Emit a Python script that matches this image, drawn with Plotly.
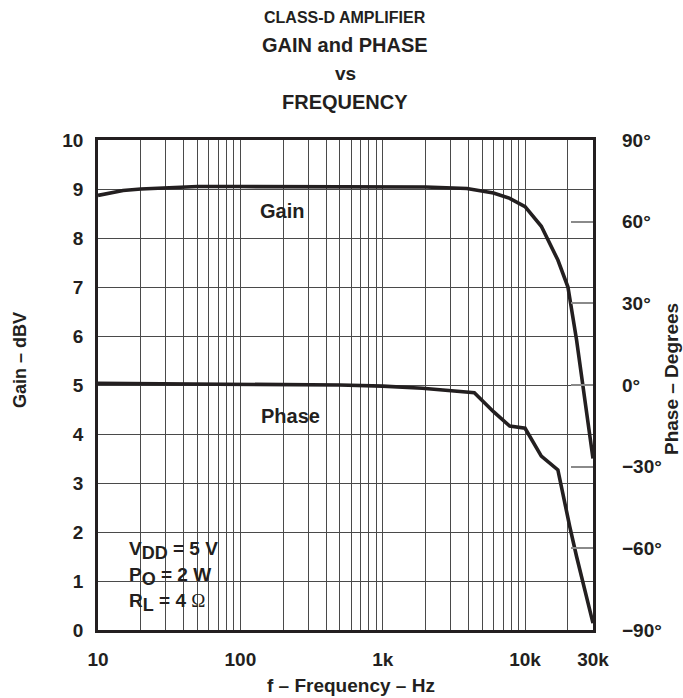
import plotly.graph_objects as go
import math

# ---- data ----
gain_freq = [10, 12, 15, 20, 30, 50, 100, 300, 1000, 2000, 3900, 6000, 7800, 10000, 13000, 17000, 20000, 23000, 30000]
gain_dbv = [8.87, 8.92, 8.97, 9.0, 9.03, 9.05, 9.05, 9.05, 9.05, 9.04, 9.01, 8.92, 8.81, 8.64, 8.24, 7.55, 7.0, 5.92, 3.5]

phase_freq = [10, 100, 500, 1000, 1900, 4400, 6000, 7800, 10000, 13000, 17000, 20600, 23000, 30000]
phase_deg = [0.6, 0.3, 0.0, -0.4, -1.2, -2.8, -9.8, -15.1, -15.9, -26.1, -31.2, -52.0, -63.0, -87.5]

x_grid_vals = [m * 10 ** d for d in range(1, 5) for m in range(1, 10) if m * 10 ** d <= 30000]
x_tick_labels = {10: "10", 100: "100", 1000: "1k", 10000: "10k", 30000: "30k"}
gain_ticks = list(range(0, 11))
phase_ticks = [-90, -60, -30, 0, 30, 60, 90]
phase_tick_text = ["\u221290\u00b0", "\u221260\u00b0", "\u221230\u00b0", "0\u00b0", "30\u00b0", "60\u00b0", "90\u00b0"]

FONT = "Liberation Sans, Arial, Helvetica, sans-serif"
INK = "#231f20"
GRID = "#4a4a4a"

W, H = 683, 698
ML, MR, MT, MB = 98, 90, 140, 68

fig = go.Figure()
fig.add_trace(go.Scatter(x=gain_freq, y=gain_dbv, mode="lines",
                         line=dict(color=INK, width=3.6), yaxis="y", showlegend=False))
fig.add_trace(go.Scatter(x=phase_freq, y=phase_deg, mode="lines",
                         line=dict(color=INK, width=3.6), yaxis="y2", showlegend=False))

ticktext_x = [x_tick_labels.get(v, "") for v in x_grid_vals]

fig.update_layout(
    width=W, height=H,
    margin=dict(l=ML, r=MR, t=MT, b=MB, pad=0),
    paper_bgcolor="white", plot_bgcolor="white",
    font=dict(family=FONT, color=INK, size=19, weight="bold"),
    xaxis=dict(type="log", range=[1, math.log10(30000)],
               tickvals=x_grid_vals, ticktext=ticktext_x,
               showgrid=True, gridcolor=GRID, gridwidth=1,
               showline=True, linecolor=INK, linewidth=2.5, mirror=True,
               ticks="", ticklabelstandoff=10,
               tickfont=dict(size=19, family=FONT, weight="bold"), zeroline=False),
    yaxis=dict(range=[0, 10], tickvals=gain_ticks,
               showgrid=True, gridcolor=GRID, gridwidth=1,
               showline=True, linecolor=INK, linewidth=2.5, mirror=True,
               ticks="", ticklabelstandoff=8, zeroline=False,
               tickfont=dict(size=19, family=FONT, weight="bold")),
    yaxis2=dict(range=[-90, 90], tickvals=phase_ticks, ticktext=phase_tick_text,
                overlaying="y", side="right", showgrid=False, zeroline=False,
                ticks="inside", ticklen=22, tickcolor="#8a8a8a", tickwidth=1.5,
                ticklabelstandoff=28, showline=False,
                tickfont=dict(size=19, family=FONT, weight="bold")),
    shapes=[
        dict(type="rect", xref="paper", yref="paper", x0=0.311, x1=0.444, y0=0.820, y1=0.888,
             fillcolor="white", line=dict(width=0), layer="between"),
        dict(type="rect", xref="paper", yref="paper", x0=0.297, x1=0.485, y0=0.398, y1=0.469,
             fillcolor="white", line=dict(width=0), layer="between"),
        dict(type="rect", xref="paper", yref="paper", x0=0.034, x1=0.289, y0=0.0245, y1=0.198,
             fillcolor="white", line=dict(width=0), layer="between"),
    ],
)

def ann(text, x, y, size, xanchor="center", yanchor="middle", textangle=0):
    fig.add_annotation(text=text, x=x, y=y, xref="paper", yref="paper", showarrow=False,
                       xanchor=xanchor, yanchor=yanchor, textangle=textangle,
                       font=dict(family=FONT, size=size, color=INK, weight="bold"))

def px(xp):
    return (xp - ML) / (W - ML - MR)

def py(yp):
    return (H - MB - yp) / (H - MT - MB)

# titles
ann("CLASS-D AMPLIFIER", px(345), py(17), 16)
ann("GAIN and PHASE", px(345), py(45), 20)
ann("vs", px(345), py(74), 19)
ann("FREQUENCY", px(345), py(102), 20)

# axis titles
ann("f \u2013 Frequency \u2013 Hz", px(351), py(685), 19)
ann("Gain \u2013 dBV", px(20), py(360), 18, textangle=-90)
ann("Phase \u2013 Degrees", px(671), py(379), 19, textangle=-90)

# curve labels
ann("Gain", px(282), py(211), 20)
ann("Phase", px(290), py(416), 20)

# conditions
sub = lambda s: "<sub><span style='font-size:18px'>" + s + "</span></sub>"
ann("V" + sub("DD") + " = 5 V", px(127), py(550), 19, xanchor="left")
ann("P" + sub("O") + " = 2 W", px(127), py(576), 19, xanchor="left")
ann("R" + sub("L") + " = 4 <span style='font-family:Liberation Serif;font-weight:normal'>\u03a9</span>",
    px(127), py(602), 19, xanchor="left")

fig.write_html("out.html",
               config={"displayModeBar": False},
               post_script="document.body.style.margin='0';document.body.style.overflow='hidden';")
